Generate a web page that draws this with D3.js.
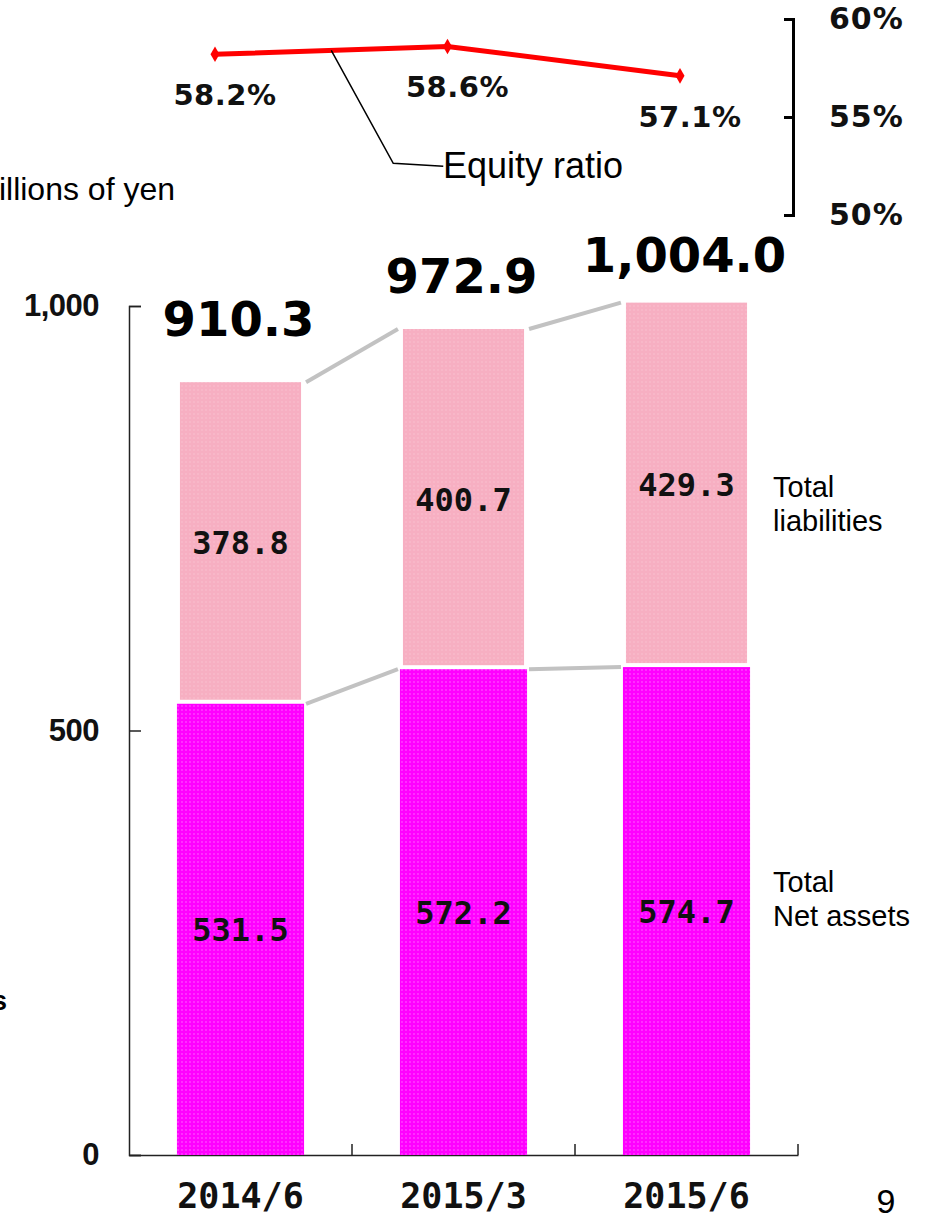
<!DOCTYPE html>
<html>
<head>
<meta charset="utf-8">
<script src="https://cdn.jsdelivr.net/npm/d3@7"></script>
<style>
  body { margin: 0; background: #fff; }
  svg { display: block; }
</style>
</head>
<body>
<svg id="chart" width="928" height="1219"></svg>
<script>
// Data
const periods = ["2014/6", "2015/3", "2015/6"];
const netAssets = [531.5, 572.2, 574.7];
const liabilities = [378.8, 400.7, 429.3];
const totals = [910.3, 972.9, 1004.0];
const equityRatio = [58.2, 58.6, 57.1];
const yTicks = [0, 500, 1000];
const ratioTicks = [50, 55, 60];

const svg = d3.select("#chart");

// patterns for the dotted bar fill
const defs = svg.append("defs");
function dotPattern(id, base, dot) {
  const p = defs.append("pattern")
      .attr("id", id)
      .attr("width", 4).attr("height", 4)
      .attr("patternUnits", "userSpaceOnUse");
  p.append("rect").attr("width", 4).attr("height", 4).attr("fill", base);
  p.append("circle").attr("cx", 2).attr("cy", 2).attr("r", 0.7).attr("fill", dot);
}
dotPattern("dotsNet", "#ff00ff", "#ff7cff");
dotPattern("dotsLiab", "#f7afc2", "#fbc6d3");

// Scales
const x = d3.scaleBand()
    .domain(periods)
    .range([129, 798])
    .paddingInner(0.43)
    .paddingOuter(0.215);

const y = d3.scaleLinear()
    .domain([0, 1000])
    .range([1155, 306]);

const xTop = d3.scalePoint()
    .domain(periods)
    .range([215, 680]);

const yRatio = d3.scaleLinear()
    .domain([50, 60])
    .range([215, 19]);

const bw = x.bandwidth();

// Y axis (ticks inward)
const yAxis = svg.append("g")
    .attr("transform", "translate(129,0)")
    .call(d3.axisLeft(y).tickValues(yTicks).tickFormat(d3.format(",")).tickSize(-12).tickPadding(30));
yAxis.selectAll("path, line").attr("stroke", "#222").attr("stroke-width", 1.5);
yAxis.selectAll("text")
    .attr("font-family", "Liberation Sans, Arial, sans-serif")
    .attr("font-weight", "bold")
    .attr("font-size", 31)
    .attr("letter-spacing", -0.5)
    .attr("fill", "#111");

// X axis
const xAxis = svg.append("g")
    .attr("transform", "translate(0,1155)")
    .call(d3.axisBottom(x).tickSize(0).tickPadding(28));
xAxis.select(".domain").attr("stroke", "#222").attr("stroke-width", 1.5);
xAxis.selectAll("text")
    .attr("font-family", "DejaVu Sans Mono, monospace")
    .attr("font-weight", "bold")
    .attr("font-size", 35)
    .attr("fill", "#111");
// boundary ticks pointing up
xAxis.selectAll(".bound")
    .data(periods)
    .join("line")
    .attr("class", "bound")
    .attr("x1", d => x(d) + bw + x.step() * x.paddingInner() / 2)
    .attr("x2", d => x(d) + bw + x.step() * x.paddingInner() / 2)
    .attr("y1", 0).attr("y2", -11)
    .attr("stroke", "#222").attr("stroke-width", 1.5);

// Connector lines between bars
const conn = svg.append("g")
    .attr("stroke", "#c2c2c2")
    .attr("stroke-width", 4);
periods.slice(0, -1).forEach((p, i) => {
  const next = periods[i + 1];
  conn.append("line")
      .attr("x1", x(p) + bw + 2).attr("y1", y(totals[i]))
      .attr("x2", x(next) - 2).attr("y2", y(totals[i + 1]));
  conn.append("line")
      .attr("x1", x(p) + bw + 2).attr("y1", y(netAssets[i]))
      .attr("x2", x(next) - 2).attr("y2", y(netAssets[i + 1]));
});

// Bars
const bars = svg.append("g");
bars.selectAll(".net")
    .data(periods)
    .join("rect")
    .attr("class", "net")
    .attr("x", d => x(d))
    .attr("width", bw)
    .attr("y", (d, i) => y(netAssets[i]))
    .attr("height", (d, i) => y(0) - y(netAssets[i]))
    .attr("fill", "url(#dotsNet)");

bars.selectAll(".liab")
    .data(periods)
    .join("rect")
    .attr("class", "liab")
    .attr("x", d => x(d) + 3)
    .attr("width", bw - 6)
    .attr("y", (d, i) => y(totals[i]))
    .attr("height", (d, i) => y(netAssets[i]) - y(totals[i]) - 4)
    .attr("fill", "url(#dotsLiab)");

// Value labels inside bars
const valueFont = "DejaVu Sans Mono, monospace";
bars.selectAll(".netLabel")
    .data(periods)
    .join("text")
    .attr("x", d => x(d) + bw / 2)
    .attr("y", (d, i) => (y(0) + y(netAssets[i])) / 2)
    .attr("dy", "0.36em")
    .attr("text-anchor", "middle")
    .attr("font-family", valueFont)
    .attr("font-weight", "bold")
    .attr("font-size", 32)
    .attr("fill", "#111")
    .text((d, i) => netAssets[i].toFixed(1));

bars.selectAll(".liabLabel")
    .data(periods)
    .join("text")
    .attr("x", d => x(d) + bw / 2)
    .attr("y", (d, i) => (y(netAssets[i]) + y(totals[i])) / 2)
    .attr("dy", "0.36em")
    .attr("text-anchor", "middle")
    .attr("font-family", valueFont)
    .attr("font-weight", "bold")
    .attr("font-size", 32)
    .attr("fill", "#111")
    .text((d, i) => liabilities[i].toFixed(1));

// Total labels above bars
bars.selectAll(".totalLabel")
    .data(periods)
    .join("text")
    .attr("x", d => x(d) + bw / 2 - 2)
    .attr("y", (d, i) => y(totals[i]) * 0.8 + 30)
    .attr("text-anchor", "middle")
    .attr("font-family", "DejaVu Sans, sans-serif")
    .attr("font-weight", "bold")
    .attr("font-size", 48)
    .attr("fill", "#000")
    .text((d, i) => d3.format(",.1f")(totals[i]));

// Equity ratio axis (right side, ticks inward)
const rAxis = svg.append("g")
    .attr("transform", "translate(793,0)")
    .call(d3.axisRight(yRatio).tickValues(ratioTicks).tickFormat(d => d + "%").tickSize(-9).tickPadding(36));
rAxis.selectAll("path, line").attr("stroke", "#000").attr("stroke-width", 3);
rAxis.selectAll("text")
    .attr("font-family", "DejaVu Sans, sans-serif")
    .attr("font-weight", "bold")
    .attr("font-size", 30)
    .attr("letter-spacing", 1)
    .attr("fill", "#111");

// Equity ratio line
const line = d3.line()
    .x((d, i) => xTop(periods[i]))
    .y(d => yRatio(d));

svg.append("path")
    .datum(equityRatio)
    .attr("d", line)
    .attr("fill", "none")
    .attr("stroke", "#ff0000")
    .attr("stroke-width", 5);

svg.selectAll(".marker")
    .data(equityRatio)
    .join("path")
    .attr("class", "marker")
    .attr("d", d3.symbol(d3.symbolDiamond, 70))
    .attr("transform", (d, i) => `translate(${xTop(periods[i])},${yRatio(d)})`)
    .attr("fill", "#ff0000");

svg.selectAll(".ratioLabel")
    .data(equityRatio)
    .join("text")
    .attr("x", (d, i) => xTop(periods[i]) + 10)
    .attr("y", d => yRatio(d) + 51)
    .attr("text-anchor", "middle")
    .attr("font-family", "DejaVu Sans, sans-serif")
    .attr("font-weight", "bold")
    .attr("font-size", 29)
    .attr("letter-spacing", 0.5)
    .attr("fill", "#111")
    .text(d => d.toFixed(1) + "%");

// Leader line for "Equity ratio"
const mid = [(xTop(periods[0]) + xTop(periods[1])) / 2, (yRatio(equityRatio[0]) + yRatio(equityRatio[1])) / 2];
svg.append("polyline")
    .attr("points", [[mid[0], mid[1]], [mid[0] + 62, mid[1] + 113], [mid[0] + 112, mid[1] + 116]].join(" "))
    .attr("fill", "none")
    .attr("stroke", "#000")
    .attr("stroke-width", 1.5);

const sans = "Liberation Sans, Arial, sans-serif";
svg.append("text")
    .attr("x", 443).attr("y", 178)
    .attr("font-family", sans).attr("font-size", 36)
    .text("Equity ratio");

// Unit label (partially off the left edge)
svg.append("text")
    .attr("x", 175).attr("y", 200)
    .attr("text-anchor", "end")
    .attr("font-family", sans).attr("font-size", 32)
    .text("Millions of yen");

// Series labels
const seriesLabels = [
  { lines: ["Total", "liabilities"], y: 497 },
  { lines: ["Total", "Net assets"], y: 892 }
];
seriesLabels.forEach(s => {
  const t = svg.append("text")
      .attr("x", 773).attr("y", s.y)
      .attr("font-family", sans).attr("font-size", 29);
  s.lines.forEach((l, i) => t.append("tspan").attr("x", 773).attr("dy", i ? 34 : 0).text(l));
});

// Fragment on the left edge
svg.append("text")
    .attr("x", 7).attr("y", 1010)
    .attr("text-anchor", "end")
    .attr("font-family", sans).attr("font-weight", "bold").attr("font-size", 27)
    .text("assets");

// Page number
svg.append("text")
    .attr("x", 886).attr("y", 1213)
    .attr("text-anchor", "middle")
    .attr("font-family", sans).attr("font-size", 34)
    .text("9");
</script>
</body>
</html>
